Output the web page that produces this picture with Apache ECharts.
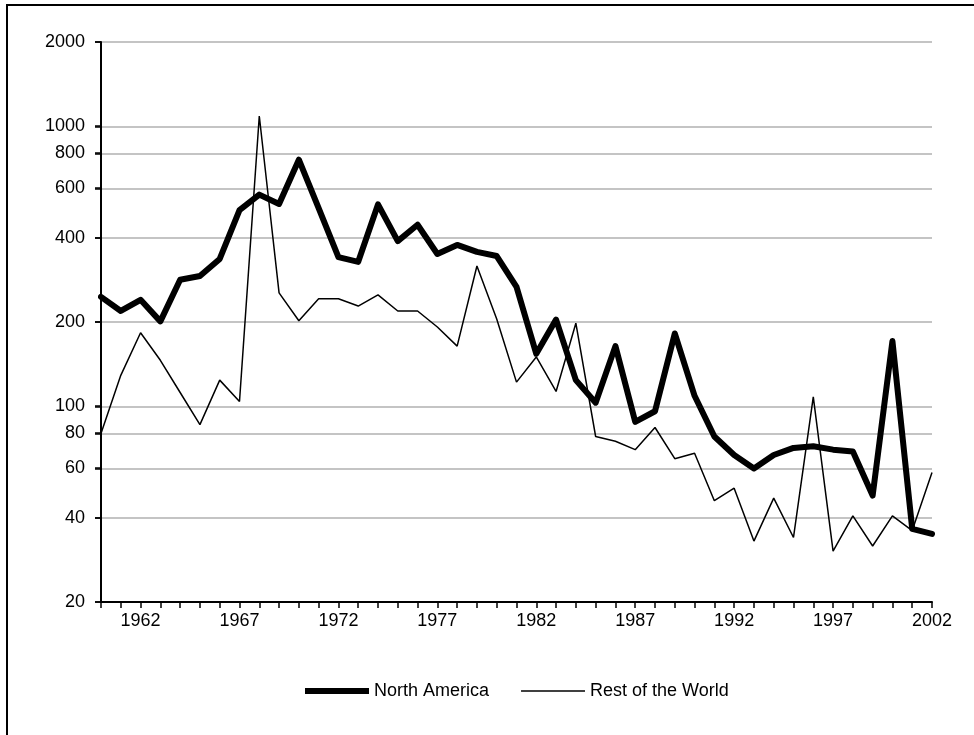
<!DOCTYPE html>
<html>
<head>
<meta charset="utf-8">
<script src="https://cdn.jsdelivr.net/npm/echarts@6/dist/echarts.min.js"></script>
<style>
html,body{margin:0;padding:0;background:#fff;}
#chart{width:974px;height:735px;}
</style>
</head>
<body>
<div id="chart"></div>
<script>
const years = [];
for (let y = 1960; y <= 2002; y++) years.push(String(y));

const northAmerica = [246,219,240,201,283,292,336,502,570,528,
  760,510,341,328,526,389,445,350,377,356,
  344,267,154,204,124,103,164,88,96,182,
  109,78,67,60,67,71,72,70,69,48,
  171,36.5,35];

const restOfWorld = [80,129,183,146,112,86,124,104,1088,254,
  202,242,242,228,250,219,219,192,164,317,
  205,122,150,113,198,78,75,70,84,65,
  68,46,51,33,47,34,108,30.4,40.6,31.7,
  40.6,36,58];

const yTicks = [20,40,60,80,100,200,400,600,800,1000,2000];
const seriesNames = ['North America','Rest of the World'];

const FONT = "'Liberation Sans', Arial, sans-serif";
const chart = echarts.init(document.getElementById('chart'), null, {renderer:'canvas'});

const baseGraphic = [{
  id: 'frame',
  type: 'polyline',
  shape: {points: [[7, 760], [7, 5], [990, 5]]},
  style: {stroke: '#000', lineWidth: 2, fill: null},
  silent: true
}];

chart.setOption({
  animation: false,
  backgroundColor: '#fff',
  textStyle: {fontFamily: FONT},
  graphic: baseGraphic,
  grid: {left: 101, right: 42, top: 42, bottom: 133, containLabel: false},
  legend: {
    data: [
      {name: seriesNames[0], icon: 'path://M0 0H64V6H0Z'},
      {name: seriesNames[1], icon: 'path://M0 0H62V1.6H0Z'}
    ],
    left: 305,
    top: 682,
    padding: 0,
    itemWidth: 64,
    itemHeight: 14,
    itemGap: 32,
    textStyle: {fontFamily: FONT, fontSize: 18, color: '#000'}
  },
  xAxis: {
    type: 'category',
    data: years,
    boundaryGap: false,
    axisLine: {show: true, lineStyle: {color: '#000', width: 2}},
    axisTick: {show: true, interval: 0, length: 6, lineStyle: {color: '#000', width: 1.5}},
    axisLabel: {
      interval: function (idx) { return (idx - 2) % 5 === 0; },
      margin: 10,
      fontSize: 18,
      fontFamily: FONT,
      color: '#000'
    },
    splitLine: {show: false}
  },
  yAxis: {
    type: 'log',
    logBase: 10,
    min: 20,
    max: 2000,
    axisLine: {show: true, onZero: false, lineStyle: {color: '#000', width: 2}},
    axisTick: {show: true, length: 6, customValues: yTicks, lineStyle: {color: '#000', width: 1.5}},
    axisLabel: {
      customValues: yTicks,
      margin: 16,
      fontSize: 18,
      fontFamily: FONT,
      color: '#000',
      formatter: function (v) { return String(Math.round(v)); }
    },
    splitLine: {show: true, lineStyle: {color: '#c4c4c4', width: 2}},
    minorSplitLine: {show: false}
  },
  series: [
    {
      name: seriesNames[0],
      type: 'line',
      data: northAmerica,
      symbol: 'none',
      lineStyle: {color: '#000', width: 6, join: 'round', cap: 'round'},
      itemStyle: {color: '#000'},
      z: 3
    },
    {
      name: seriesNames[1],
      type: 'line',
      data: restOfWorld,
      symbol: 'none',
      lineStyle: {color: '#000', width: 1.5},
      itemStyle: {color: '#000'},
      z: 2
    }
  ]
});

// y-axis tick marks positioned through the axis scale
const axisX = chart.convertToPixel({xAxisIndex: 0}, years[0]);
const tickGraphics = yTicks.map(function (v, i) {
  const py = Math.round(chart.convertToPixel({yAxisIndex: 0}, v));
  return {
    id: 'ytick' + i,
    type: 'line',
    shape: {x1: axisX - 6, y1: py, x2: axisX, y2: py},
    style: {stroke: '#000', lineWidth: 1.5},
    silent: true,
    z: 10
  };
});
chart.setOption({graphic: baseGraphic.concat(tickGraphics)});
</script>
</body>
</html>
